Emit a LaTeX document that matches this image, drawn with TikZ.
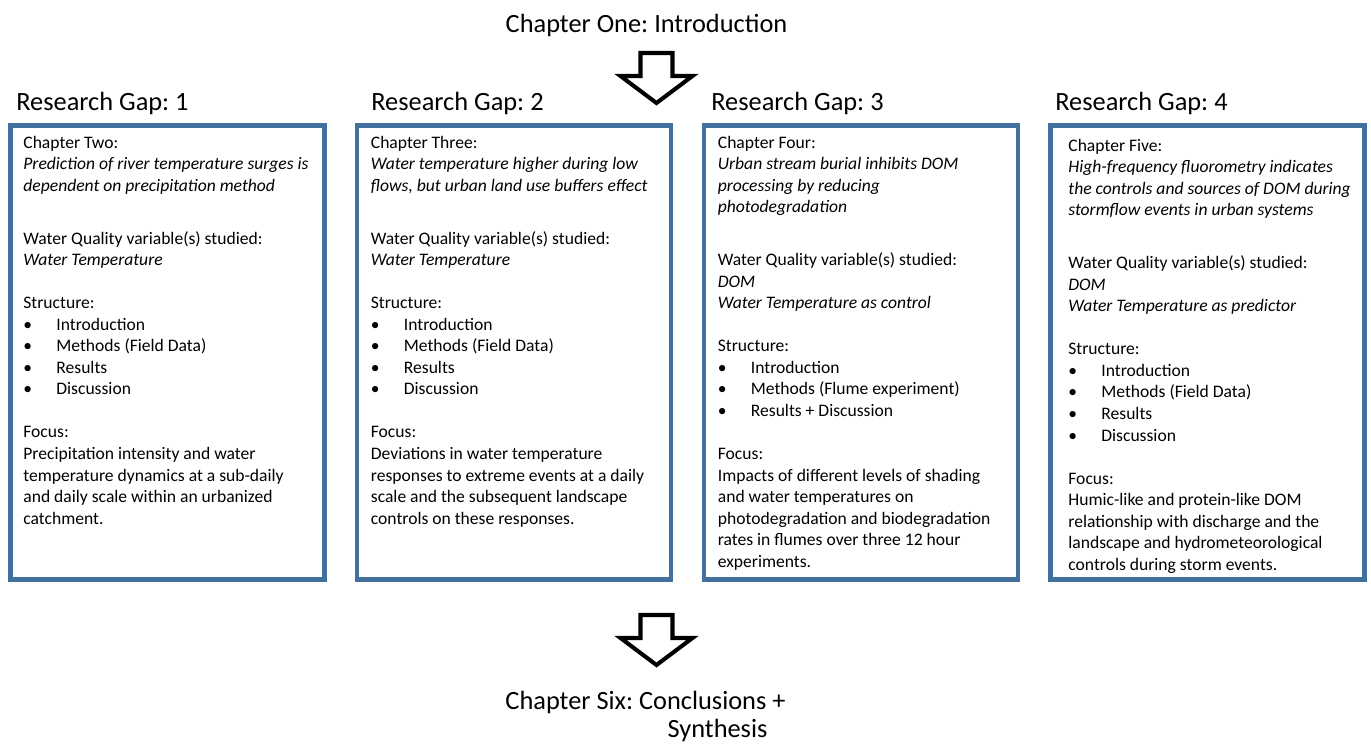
\documentclass[tikz,border=0pt]{standalone}
\usepackage{fontspec}
\setmainfont{Carlito}
\usetikzlibrary{positioning}
\definecolor{gapblue}{RGB}{65,113,156}
\frenchspacing
\newcommand{\itm}[1]{\makebox[0.66cm][l]{\textbullet}#1}
\newcommand{\hgap}{\\[0.632cm]}
\newcommand{\pgap}{\\[0.43cm]}
\tikzset{
    gapbox/.style={rectangle, draw=gapblue, line width=2.8pt, minimum width=6.28cm, minimum height=9.08cm, inner sep=0pt},
    gaptitle/.style={anchor=base west, inner sep=0pt, font=\fontsize{15}{18}\selectfont},
    boxtext/.style={align=left, inner sep=0pt, font=\fontsize{10}{12.25}\selectfont},
    blockarrow/.style={draw, fill=white, line width=2.3pt, line join=miter}
}

\begin{document}
\begin{tikzpicture}
        \def\boxy{-7.05}
        \def\arrowx{13.13}
        \useasboundingbox (0,0) rectangle (27.42,-14.88);

        \node(intro) [inner sep=0pt, anchor=base, font=\fontsize{15}{18}\selectfont] at (12.93,-0.64) {Chapter One: Introduction};

        \node(box1) [gapbox] at (3.35,\boxy) {};
        \node(box2) [gapbox] at (10.28,\boxy) {};
        \node(box3) [gapbox] at (17.22,\boxy) {};
        \node(box4) [gapbox] at (24.15,\boxy) {};

        \node(gap1) [gaptitle] at (0.32,-2.2) {Research Gap: 1};
        \node(gap2) [gaptitle] at (7.42,-2.2) {Research Gap: 2};
        \node(gap3) [gaptitle] at (14.22,-2.2) {Research Gap: 3};
        \node(gap4) [gaptitle] at (21.1,-2.2) {Research Gap: 4};

        \node(text1) [boxtext, below right=0.25cm and 0.3cm of box1.north west] {Chapter Two:\\
            \textit{Prediction of river temperature surges is}\\
            \textit{dependent on precipitation method}\hgap
            Water Quality variable(s) studied:\\
            \textit{Water Temperature}\pgap
            Structure:\\
            \itm{Introduction}\\
            \itm{Methods (Field Data)}\\
            \itm{Results}\\
            \itm{Discussion}\pgap
            Focus:\\
            Precipitation intensity and water\\
            temperature dynamics at a sub-daily\\
            and daily scale within an urbanized\\
            catchment.};

        \node(text2) [boxtext, below right=0.25cm and 0.32cm of box2.north west] {Chapter Three:\\
            \textit{Water temperature higher during low}\\
            \textit{flows, but urban land use buffers effect}\hgap
            Water Quality variable(s) studied:\\
            \textit{Water Temperature}\pgap
            Structure:\\
            \itm{Introduction}\\
            \itm{Methods (Field Data)}\\
            \itm{Results}\\
            \itm{Discussion}\pgap
            Focus:\\
            Deviations in water temperature\\
            responses to extreme events at a daily\\
            scale and the subsequent landscape\\
            controls on these responses.};

        \node(text3) [boxtext, below right=0.25cm and 0.32cm of box3.north west] {Chapter Four:\\
            \textit{Urban stream burial inhibits DOM}\\
            \textit{processing by reducing}\\
            \textit{photodegradation}\hgap
            Water Quality variable(s) studied:\\
            \textit{DOM}\\
            \textit{Water Temperature as control}\pgap
            Structure:\\
            \itm{Introduction}\\
            \itm{Methods (Flume experiment)}\\
            \itm{Results + Discussion}\pgap
            Focus:\\
            Impacts of different levels of shading\\
            and water temperatures on\\
            photodegradation and biodegradation\\
            rates in flumes over three 12 hour\\
            experiments.};

        \node(text4) [boxtext, below right=0.31cm and 0.4cm of box4.north west] {Chapter Five:\\
            \textit{High-frequency fluorometry indicates}\\
            \textit{the controls and sources of DOM during}\\
            \textit{stormflow events in urban systems}\hgap
            Water Quality variable(s) studied:\\
            \textit{DOM}\\
            \textit{Water Temperature as predictor}\pgap
            Structure:\\
            \itm{Introduction}\\
            \itm{Methods (Field Data)}\\
            \itm{Results}\\
            \itm{Discussion}\pgap
            Focus:\\
            Humic-like and protein-like DOM\\
            relationship with discharge and the\\
            landscape and hydrometeorological\\
            controls during storm events.};

        \foreach \ytop in {-1.06,-12.3} {
            \draw[blockarrow] (\arrowx-0.32,\ytop) -- (\arrowx+0.32,\ytop) -- (\arrowx+0.32,\ytop-0.46) -- (\arrowx+0.72,\ytop-0.46)
                -- (\arrowx,\ytop-1.0) -- (\arrowx-0.72,\ytop-0.46) -- (\arrowx-0.32,\ytop-0.46) -- cycle;
        }

        \node(synth) [inner sep=0pt, anchor=north, align=center, font=\fontsize{15}{16}\selectfont] at (12.91,-13.82) {Chapter Six: Conclusions +\\\hspace*{2.88cm}Synthesis};
\end{tikzpicture}
\end{document}
